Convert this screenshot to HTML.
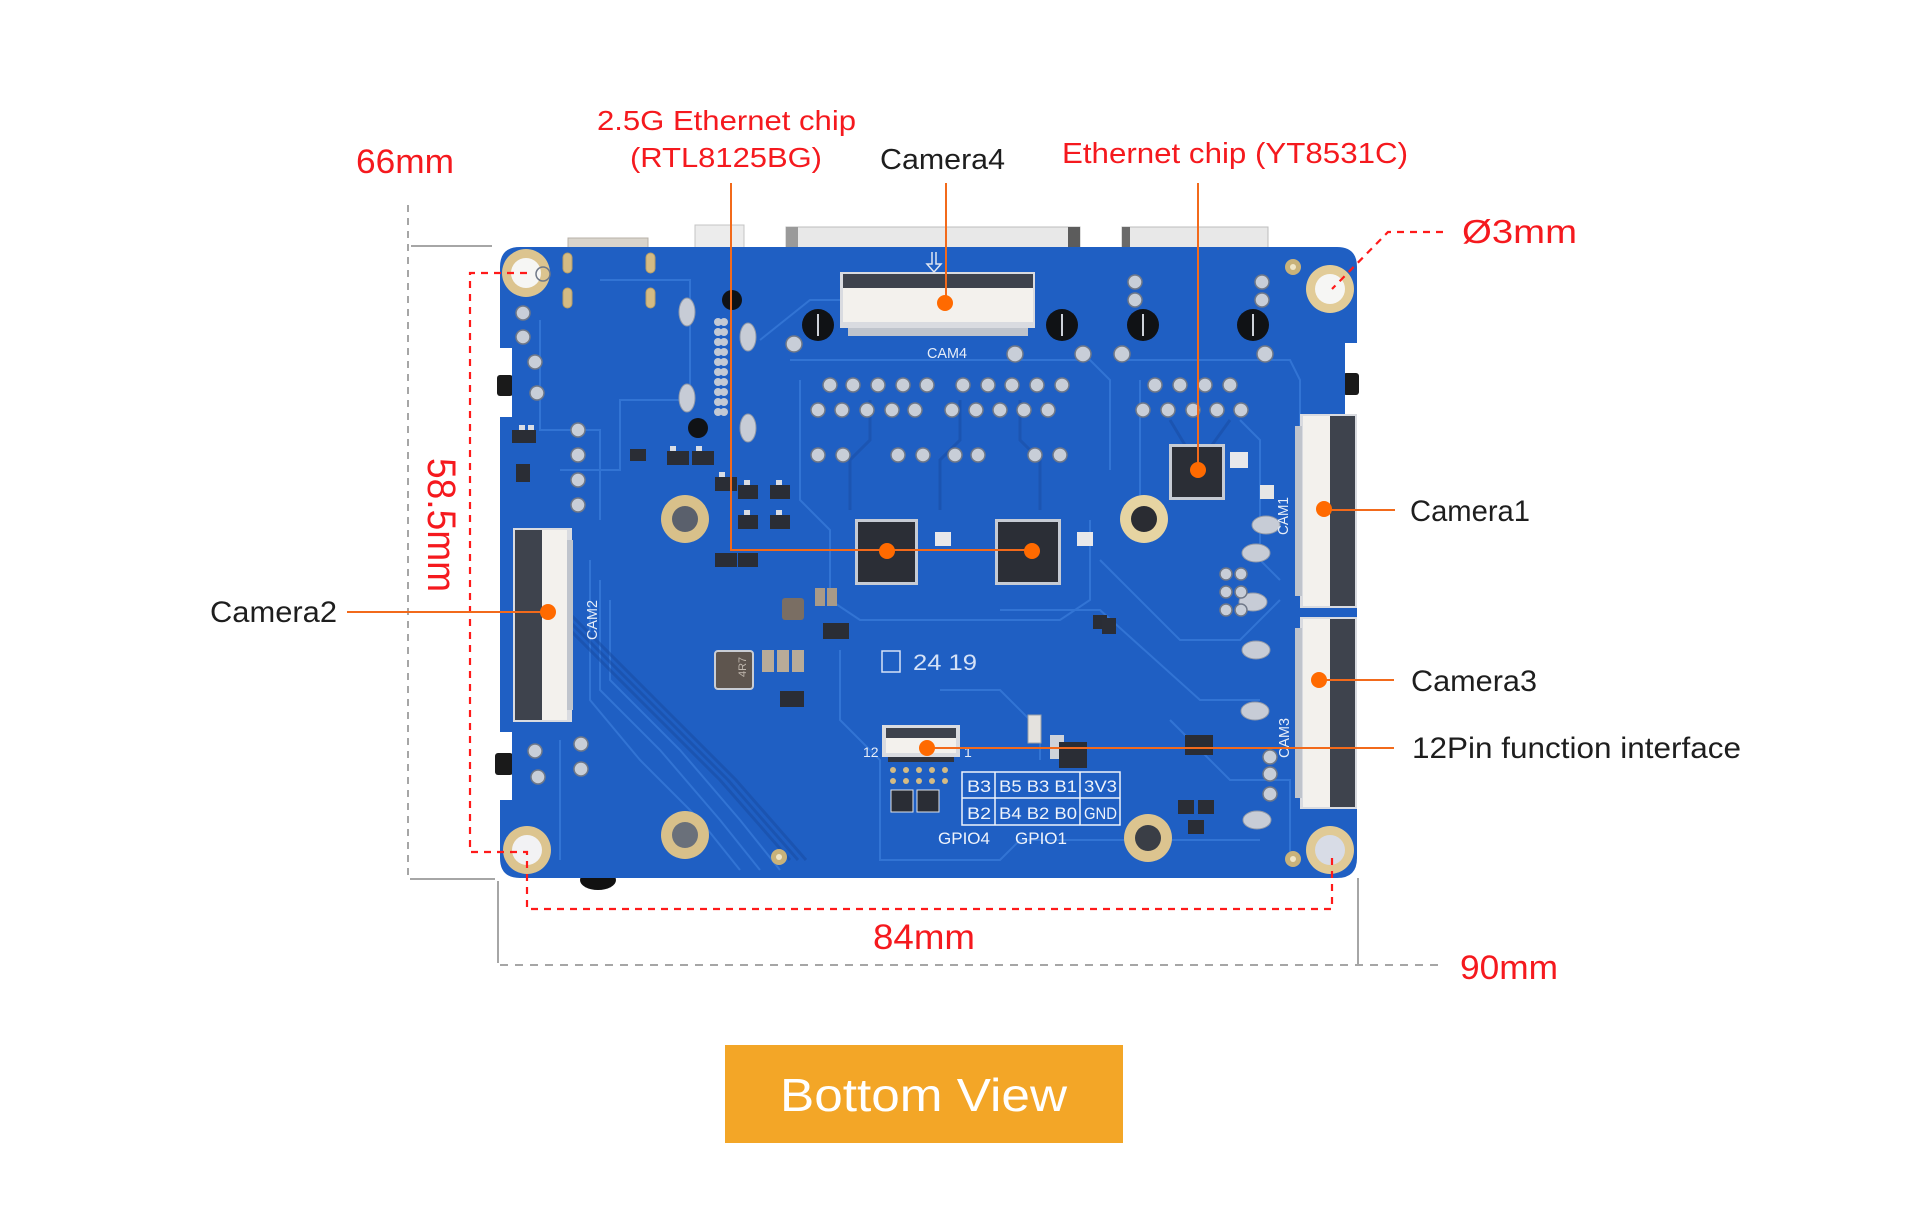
<!DOCTYPE html>
<html>
<head>
<meta charset="utf-8">
<style>
html,body{margin:0;padding:0;background:#fff;}
svg{display:block;}
text{font-family:"Liberation Sans",Arial,sans-serif;}
</style>
</head>
<body>
<svg width="1906" height="1205" viewBox="0 0 1906 1205" xmlns="http://www.w3.org/2000/svg">
<rect width="1906" height="1205" fill="#ffffff"/>

<!-- connectors protruding above board -->
<rect x="568" y="238" width="80" height="12" fill="#d9d4cc" stroke="#b8b2a8"/>
<rect x="695" y="225" width="49" height="25" fill="#ececec" stroke="#c4c4c4"/>
<rect x="786" y="227" width="294" height="23" fill="#e8e8e8" stroke="#bdbdbd"/>
<rect x="786" y="227" width="12" height="23" fill="#9a9a9a"/>
<rect x="1068" y="227" width="12" height="23" fill="#5c5c5c"/>
<rect x="1122" y="227" width="146" height="23" fill="#e8e8e8" stroke="#bdbdbd"/>
<rect x="1122" y="227" width="8" height="23" fill="#6a6a6a"/>

<!-- black parts under board -->
<ellipse cx="598" cy="880" rx="18" ry="10" fill="#111"/>
<rect x="497" y="375" width="16" height="21" rx="3" fill="#1a1a1a"/>
<rect x="495" y="753" width="18" height="22" rx="3" fill="#1a1a1a"/>
<rect x="1343" y="373" width="16" height="22" rx="3" fill="#1a1a1a"/>

<!-- board -->
<path d="M520 247 L1337 247 Q1357 247 1357 267 L1357 343 L1345 343 L1345 415 L1357 415 L1357 858 Q1357 878 1337 878 L520 878 Q500 878 500 858 L500 800 L512 800 L512 732 L500 732 L500 417 L512 417 L512 348 L500 348 L500 267 Q500 247 520 247 Z" fill="#1f5fc3"/>

<!-- trace texture -->
<g fill="none" stroke="#3b7ddc" stroke-width="2" opacity="0.7">
<path d="M600 280 L690 280 L690 400 L620 400 L620 470 L560 470"/>
<path d="M540 320 L540 430 L600 430 L600 520"/>
<path d="M760 340 L810 300 L840 300"/>
<path d="M790 360 L1090 360 L1110 380 L1110 470"/>
<path d="M1120 360 L1290 360 L1300 380 L1300 560"/>
<path d="M1140 380 L1140 500 L1160 520"/>
<path d="M800 380 L800 500 L830 530 L830 600 L860 620 L1060 620 L1090 600 L1090 520"/>
<path d="M590 560 L590 700 L640 760 L700 820 L740 870"/>
<path d="M600 580 L600 690 L660 750 L720 820 L760 870"/>
<path d="M610 600 L610 680 L680 750 L740 820 L780 870"/>
<path d="M840 650 L840 720 L880 760 L880 860 L1000 860 L1020 840 L1260 840"/>
<path d="M1000 610 L1100 610 L1200 700 L1260 700"/>
<path d="M1100 560 L1180 640 L1240 640 L1280 600"/>
<path d="M1170 720 L1230 780 L1290 780 L1290 860"/>
<path d="M940 690 L1000 690 L1040 730 L1040 760"/>
<path d="M560 740 L560 860"/>
<path d="M1240 420 L1260 440 L1260 560 L1280 580"/>
</g>
<g fill="none" stroke="#1a4ea6" stroke-width="3" opacity="0.6">
<path d="M540 600 L640 700 L720 780 L790 860"/>
<path d="M548 600 L648 700 L728 780 L798 860"/>
<path d="M556 600 L656 700 L736 780 L806 860"/>
<path d="M870 400 L870 440 L850 460 L850 510"/>
<path d="M960 400 L960 440 L940 460 L940 510"/>
<path d="M1020 400 L1020 440 L1040 460 L1040 510"/>
<path d="M1170 420 L1185 445"/>
<path d="M1230 420 L1212 445"/>
</g>

<!-- mounting holes corner -->
<g>
<circle cx="526" cy="273" r="24" fill="#dcc48f"/><circle cx="526" cy="273" r="15" fill="#f6f6f4"/>
<circle cx="1330" cy="289" r="24" fill="#e2cc98"/><circle cx="1330" cy="289" r="15" fill="#f6f6f4"/>
<circle cx="527" cy="850" r="24" fill="#dcc48f"/><circle cx="527" cy="850" r="15" fill="#f2f2f4"/>
<circle cx="1330" cy="850" r="24" fill="#e0ca96"/><circle cx="1330" cy="850" r="15" fill="#d8dce6"/>
</g>
<!-- mid holes -->
<g>
<circle cx="685" cy="519" r="24" fill="#d8c08a"/><circle cx="685" cy="519" r="13" fill="#5a606c"/>
<circle cx="1144" cy="519" r="24" fill="#e6d4a2"/><circle cx="1144" cy="519" r="13" fill="#2a2c32"/>
<circle cx="685" cy="835" r="24" fill="#d8c08a"/><circle cx="685" cy="835" r="13" fill="#6a707a"/>
<circle cx="1148" cy="838" r="24" fill="#dcc48f"/><circle cx="1148" cy="838" r="13" fill="#3a3e46"/>
</g>
<!-- small gold vias -->
<circle cx="1293" cy="267" r="8" fill="#c9b27a"/><circle cx="1293" cy="267" r="3" fill="#f0e6c8"/>
<circle cx="779" cy="857" r="8" fill="#c9b27a"/><circle cx="779" cy="857" r="3" fill="#f0e6c8"/>
<circle cx="1293" cy="859" r="8" fill="#c9b27a"/><circle cx="1293" cy="859" r="3" fill="#f0e6c8"/>

<!-- gold slots -->
<g fill="#d4bb84" stroke="#b89e66">
<rect x="563" y="253" width="9" height="20" rx="4.5"/>
<rect x="646" y="253" width="9" height="20" rx="4.5"/>
<rect x="563" y="288" width="9" height="20" rx="4.5"/>
<rect x="646" y="288" width="9" height="20" rx="4.5"/>
</g>
<!-- silver ovals -->
<g fill="#c7ccd6" stroke="#8f98a8">
<ellipse cx="687" cy="312" rx="8" ry="14"/>
<ellipse cx="748" cy="337" rx="8" ry="14"/>
<ellipse cx="687" cy="398" rx="8" ry="14"/>
<ellipse cx="748" cy="428" rx="8" ry="14"/>
<ellipse cx="1266" cy="525" rx="14" ry="9"/>
<ellipse cx="1256" cy="553" rx="14" ry="9"/>
<ellipse cx="1253" cy="602" rx="14" ry="9"/>
<ellipse cx="1256" cy="650" rx="14" ry="9"/>
<ellipse cx="1257" cy="820" rx="14" ry="9"/>
<ellipse cx="1255" cy="711" rx="14" ry="9"/>
</g>
<!-- grid pads column -->
<g fill="#c3c9d4">
<circle cx="718" cy="322" r="4"/><circle cx="724" cy="322" r="4"/>
<circle cx="718" cy="332" r="4"/><circle cx="724" cy="332" r="4"/>
<circle cx="718" cy="342" r="4"/><circle cx="724" cy="342" r="4"/>
<circle cx="718" cy="352" r="4"/><circle cx="724" cy="352" r="4"/>
<circle cx="718" cy="362" r="4"/><circle cx="724" cy="362" r="4"/>
<circle cx="718" cy="372" r="4"/><circle cx="724" cy="372" r="4"/>
<circle cx="718" cy="382" r="4"/><circle cx="724" cy="382" r="4"/>
<circle cx="718" cy="392" r="4"/><circle cx="724" cy="392" r="4"/>
<circle cx="718" cy="402" r="4"/><circle cx="724" cy="402" r="4"/>
<circle cx="718" cy="412" r="4"/><circle cx="724" cy="412" r="4"/>
</g>

<!-- silver vias rows -->
<g fill="#c8ced8" stroke="#6f7888" stroke-width="1.5">
<circle cx="830" cy="385" r="7"/><circle cx="853" cy="385" r="7"/><circle cx="878" cy="385" r="7"/><circle cx="903" cy="385" r="7"/>
<circle cx="927" cy="385" r="7"/><circle cx="963" cy="385" r="7"/><circle cx="988" cy="385" r="7"/><circle cx="1012" cy="385" r="7"/><circle cx="1037" cy="385" r="7"/><circle cx="1062" cy="385" r="7"/>
<circle cx="1155" cy="385" r="7"/><circle cx="1180" cy="385" r="7"/><circle cx="1205" cy="385" r="7"/><circle cx="1230" cy="385" r="7"/>
<circle cx="818" cy="410" r="7"/><circle cx="842" cy="410" r="7"/><circle cx="867" cy="410" r="7"/><circle cx="892" cy="410" r="7"/>
<circle cx="915" cy="410" r="7"/><circle cx="952" cy="410" r="7"/><circle cx="976" cy="410" r="7"/><circle cx="1000" cy="410" r="7"/><circle cx="1024" cy="410" r="7"/><circle cx="1048" cy="410" r="7"/>
<circle cx="1143" cy="410" r="7"/><circle cx="1168" cy="410" r="7"/><circle cx="1193" cy="410" r="7"/><circle cx="1217" cy="410" r="7"/><circle cx="1241" cy="410" r="7"/>
<circle cx="818" cy="455" r="7"/><circle cx="843" cy="455" r="7"/><circle cx="898" cy="455" r="7"/>
<circle cx="923" cy="455" r="7"/><circle cx="955" cy="455" r="7"/><circle cx="978" cy="455" r="7"/><circle cx="1035" cy="455" r="7"/><circle cx="1060" cy="455" r="7"/>
<circle cx="1135" cy="282" r="7"/><circle cx="1135" cy="300" r="7"/>
<circle cx="1262" cy="282" r="7"/><circle cx="1262" cy="300" r="7"/>
<circle cx="1083" cy="354" r="8"/><circle cx="1122" cy="354" r="8"/><circle cx="1265" cy="354" r="8"/><circle cx="1015" cy="354" r="8"/><circle cx="794" cy="344" r="8"/>
<circle cx="543" cy="274" r="7" fill="none"/>
<circle cx="523" cy="313" r="7"/><circle cx="523" cy="337" r="7"/>
<circle cx="535" cy="362" r="7"/><circle cx="537" cy="393" r="7"/>
<circle cx="578" cy="430" r="7"/><circle cx="578" cy="455" r="7"/><circle cx="578" cy="480" r="7"/><circle cx="578" cy="505" r="7"/>
<circle cx="581" cy="744" r="7"/><circle cx="581" cy="769" r="7"/><circle cx="535" cy="751" r="7"/><circle cx="538" cy="777" r="7"/>
<circle cx="1270" cy="757" r="7"/><circle cx="1270" cy="774" r="7"/><circle cx="1270" cy="794" r="7"/>
<circle cx="1226" cy="574" r="6"/><circle cx="1241" cy="574" r="6"/><circle cx="1226" cy="592" r="6"/><circle cx="1241" cy="592" r="6"/><circle cx="1226" cy="610" r="6"/><circle cx="1241" cy="610" r="6"/>
</g>

<!-- black screws -->
<g fill="#101215">
<circle cx="818" cy="325" r="16"/><circle cx="1062" cy="325" r="16"/><circle cx="1143" cy="325" r="16"/><circle cx="1253" cy="325" r="16"/>
<circle cx="732" cy="300" r="10"/><circle cx="698" cy="428" r="10"/>
</g>
<g stroke="#cfd3da" stroke-width="2">
<line x1="818" y1="314" x2="818" y2="336"/><line x1="1062" y1="314" x2="1062" y2="336"/><line x1="1143" y1="314" x2="1143" y2="336"/><line x1="1253" y1="314" x2="1253" y2="336"/>
</g>

<!-- SOT components -->
<g>
<g fill="#2a2d35">
<rect x="667" y="451" width="22" height="14"/><rect x="692" y="451" width="22" height="14"/>
<rect x="630" y="449" width="16" height="12"/>
<rect x="715" y="477" width="22" height="14"/><rect x="738" y="485" width="20" height="14"/><rect x="770" y="485" width="20" height="14"/>
<rect x="738" y="515" width="20" height="14"/><rect x="770" y="515" width="20" height="14"/>
<rect x="715" y="553" width="22" height="14"/><rect x="738" y="553" width="20" height="14"/>
<rect x="512" y="430" width="24" height="13"/><rect x="516" y="464" width="14" height="18"/>
<rect x="823" y="623" width="26" height="16"/><rect x="780" y="691" width="24" height="16"/>
<rect x="1093" y="615" width="14" height="14"/>
<rect x="1185" y="735" width="28" height="20"/>
<rect x="1178" y="800" width="16" height="14"/><rect x="1198" y="800" width="16" height="14"/>
<rect x="1188" y="820" width="16" height="14"/>
<rect x="1050" y="735" width="14" height="24" fill="#cfd3da"/>
</g>
<g fill="#d9dde5">
<rect x="670" y="446" width="6" height="5"/><rect x="696" y="446" width="6" height="5"/>
<rect x="719" y="472" width="6" height="5"/><rect x="744" y="480" width="6" height="5"/><rect x="776" y="480" width="6" height="5"/>
<rect x="744" y="510" width="6" height="5"/><rect x="776" y="510" width="6" height="5"/>
<rect x="519" y="425" width="6" height="5"/><rect x="528" y="425" width="6" height="5"/>
</g>
</g>

<!-- brown components -->
<rect x="782" y="598" width="22" height="22" rx="3" fill="#7a6e63"/>
<rect x="815" y="588" width="10" height="18" fill="#a89a88"/><rect x="827" y="588" width="10" height="18" fill="#a89a88"/>
<rect x="715" y="651" width="38" height="38" rx="3" fill="#5e554e" stroke="#c9cdd4" stroke-width="2"/>
<text x="727" y="682" font-size="11" fill="#c0b8ae" transform="rotate(-90 734 670)">4R7</text>
<rect x="762" y="650" width="12" height="22" fill="#b8ab98"/><rect x="777" y="650" width="12" height="22" fill="#b8ab98"/><rect x="792" y="650" width="12" height="22" fill="#b8ab98"/>
<rect x="1260" y="485" width="14" height="14" fill="#e6e6e6"/>
<rect x="1230" y="452" width="18" height="16" fill="#e8e8ea"/>
<rect x="935" y="532" width="16" height="14" fill="#e8e8ea"/>
<rect x="1077" y="532" width="16" height="14" fill="#e8e8ea"/>
<rect x="1028" y="715" width="13" height="28" fill="#e4e2de" stroke="#9aa0aa"/>
<rect x="1059" y="742" width="28" height="26" fill="#2a2d35"/>

<!-- Ethernet chips -->
<g>
<rect x="855" y="519" width="63" height="66" fill="#c6cbd4"/>
<rect x="858" y="522" width="57" height="60" fill="#2b2e36"/>
<rect x="995" y="519" width="66" height="66" fill="#c6cbd4"/>
<rect x="998" y="522" width="60" height="60" fill="#2b2e36"/>
<rect x="1169" y="444" width="56" height="56" fill="#c6cbd4"/>
<rect x="1172" y="447" width="50" height="50" fill="#2b2e36"/>
<rect x="1102" y="618" width="14" height="16" fill="#2b2e36"/>
</g>

<!-- CAM4 connector -->
<g>
<rect x="840" y="272" width="195" height="56" fill="#d9dbe0"/>
<rect x="843" y="274" width="190" height="14" fill="#3e434d"/>
<rect x="843" y="288" width="190" height="34" fill="#f3f1ed"/>
<rect x="848" y="328" width="180" height="8" fill="#bfc4cc"/>
<path d="M932 252 L932 264 L927 264 L934 272 L941 264 L936 264 L936 252" fill="none" stroke="#dfe6f2" stroke-width="1.5"/>
<text x="927" y="358" font-size="15" fill="#e6edf8" textLength="40" lengthAdjust="spacingAndGlyphs" font-family="Liberation Mono, monospace">CAM4</text>
</g>
<!-- CAM2 -->
<g>
<rect x="513" y="528" width="59" height="194" fill="#d9dbe0"/>
<rect x="515" y="530" width="27" height="190" fill="#3e434d"/>
<rect x="542" y="530" width="25" height="190" fill="#f3f1ed"/>
<rect x="567" y="540" width="6" height="170" fill="#bfc4cc"/>
<text transform="translate(597,640) rotate(-90)" font-size="15" fill="#e6edf8" textLength="40" lengthAdjust="spacingAndGlyphs" font-family="Liberation Mono, monospace">CAM2</text>
</g>
<!-- CAM1 -->
<g>
<rect x="1300" y="414" width="57" height="194" fill="#d9dbe0"/>
<rect x="1303" y="416" width="27" height="190" fill="#f3f1ed"/>
<rect x="1330" y="416" width="25" height="190" fill="#3e434d"/>
<rect x="1295" y="426" width="7" height="170" fill="#bfc4cc"/>
<text transform="translate(1288,535) rotate(-90)" font-size="15" fill="#e6edf8" textLength="38" lengthAdjust="spacingAndGlyphs" font-family="Liberation Mono, monospace">CAM1</text>
</g>
<!-- CAM3 -->
<g>
<rect x="1300" y="617" width="57" height="192" fill="#d9dbe0"/>
<rect x="1303" y="619" width="27" height="188" fill="#f3f1ed"/>
<rect x="1330" y="619" width="25" height="188" fill="#3e434d"/>
<rect x="1295" y="628" width="7" height="170" fill="#bfc4cc"/>
<text transform="translate(1289,758) rotate(-90)" font-size="15" fill="#e6edf8" textLength="40" lengthAdjust="spacingAndGlyphs" font-family="Liberation Mono, monospace">CAM3</text>
</g>
<!-- 12pin connector -->
<g>
<rect x="882" y="725" width="78" height="32" fill="#d9dbe0"/>
<rect x="886" y="728" width="70" height="10" fill="#3e434d"/>
<rect x="886" y="738" width="70" height="15" fill="#f3f1ed"/>
<rect x="888" y="757" width="66" height="5" fill="#2f3440"/>
<text x="863" y="757" font-size="14" fill="#e6edf8" font-family="Liberation Mono, monospace">12</text>
<text x="964" y="757" font-size="14" fill="#e6edf8" font-family="Liberation Mono, monospace">1</text>
<g fill="#d4bb84">
<circle cx="893" cy="770" r="3"/><circle cx="906" cy="770" r="3"/><circle cx="919" cy="770" r="3"/><circle cx="932" cy="770" r="3"/><circle cx="945" cy="770" r="3"/>
<circle cx="893" cy="781" r="3"/><circle cx="906" cy="781" r="3"/><circle cx="919" cy="781" r="3"/><circle cx="932" cy="781" r="3"/><circle cx="945" cy="781" r="3"/>
</g>
<rect x="891" y="790" width="22" height="22" fill="#2a2d35" stroke="#dfe4ec"/>
<rect x="917" y="790" width="22" height="22" fill="#2a2d35" stroke="#dfe4ec"/>
</g>

<!-- silkscreen -->
<text x="913" y="670" font-size="22" fill="#d5e2f7" font-family="Liberation Mono, monospace" textLength="64" lengthAdjust="spacingAndGlyphs">24 19</text>
<rect x="882" y="651" width="18" height="21" fill="none" stroke="#d5e2f7" stroke-width="1.5"/>

<!-- GPIO table -->
<g fill="none" stroke="#eef3fb" stroke-width="1.5">
<rect x="962" y="772" width="158" height="53"/>
<line x1="962" y1="798" x2="1120" y2="798"/>
<line x1="995" y1="772" x2="995" y2="825"/>
<line x1="1080" y1="772" x2="1080" y2="825"/>
</g>
<g fill="#eef3fb" font-family="Liberation Mono, monospace" font-size="17">
<text x="967" y="792" textLength="24" lengthAdjust="spacingAndGlyphs">B3</text>
<text x="999" y="792" textLength="78" lengthAdjust="spacingAndGlyphs">B5 B3 B1</text>
<text x="1084" y="792" textLength="33" lengthAdjust="spacingAndGlyphs">3V3</text>
<text x="967" y="819" textLength="24" lengthAdjust="spacingAndGlyphs">B2</text>
<text x="999" y="819" textLength="78" lengthAdjust="spacingAndGlyphs">B4 B2 B0</text>
<text x="1084" y="819" textLength="33" lengthAdjust="spacingAndGlyphs">GND</text>
<text x="938" y="844" textLength="52" lengthAdjust="spacingAndGlyphs">GPIO4</text>
<text x="1015" y="844" textLength="52" lengthAdjust="spacingAndGlyphs">GPIO1</text>
</g>

<!-- gray dimension lines -->
<g stroke="#a6a6a6" stroke-width="2" fill="none">
<line x1="408" y1="205" x2="408" y2="878" stroke-dasharray="7,6"/>
<line x1="411" y1="246" x2="492" y2="246"/>
<line x1="410" y1="879" x2="495" y2="879"/>
<line x1="498" y1="881" x2="498" y2="963"/>
<line x1="500" y1="965" x2="1442" y2="965" stroke-dasharray="8,7"/>
<line x1="1358" y1="878" x2="1358" y2="965"/>
</g>

<!-- red dashed lines -->
<g stroke="#ff1a1a" stroke-width="2.2" fill="none" stroke-dasharray="7,6">
<path d="M527 273 L470 273 L470 852 L527 852 L527 909 L1332 909 L1332 857"/>
<path d="M1443 232 L1388 232 L1332 289"/>
</g>

<!-- orange leader lines -->
<g stroke="#f26a1b" stroke-width="2" fill="none">
<path d="M731 183 L731 550 L1032 550"/>
<line x1="946" y1="183" x2="946" y2="303"/>
<line x1="1198" y1="183" x2="1198" y2="470"/>
<line x1="1324" y1="510" x2="1395" y2="510"/>
<line x1="347" y1="612" x2="548" y2="612"/>
<line x1="1319" y1="680" x2="1394" y2="680"/>
<line x1="927" y1="748" x2="1394" y2="748"/>
</g>
<g fill="#ff6a00">
<circle cx="887" cy="551" r="8"/>
<circle cx="1032" cy="551" r="8"/>
<circle cx="945" cy="303" r="8"/>
<circle cx="1198" cy="470" r="8"/>
<circle cx="1324" cy="509" r="8"/>
<circle cx="548" cy="612" r="8"/>
<circle cx="1319" cy="680" r="8"/>
<circle cx="927" cy="748" r="8"/>
</g>

<!-- labels -->
<g fill="#f5191e">
<text x="356" y="173" font-size="34" textLength="98" lengthAdjust="spacingAndGlyphs">66mm</text>
<text x="597" y="130" font-size="28" textLength="259" lengthAdjust="spacingAndGlyphs">2.5G Ethernet chip</text>
<text x="630" y="167" font-size="28" textLength="192" lengthAdjust="spacingAndGlyphs">(RTL8125BG)</text>
<text x="1062" y="163" font-size="29" textLength="346" lengthAdjust="spacingAndGlyphs">Ethernet chip (YT8531C)</text>
<text x="1462" y="243" font-size="33" textLength="115" lengthAdjust="spacingAndGlyphs">Ø3mm</text>
<text transform="translate(428,458) rotate(90)" font-size="40" textLength="134" lengthAdjust="spacingAndGlyphs">58.5mm</text>
<text x="873" y="949" font-size="35" textLength="102" lengthAdjust="spacingAndGlyphs">84mm</text>
<text x="1460" y="979" font-size="34" textLength="98" lengthAdjust="spacingAndGlyphs">90mm</text>
</g>
<g fill="#1e1e1e">
<text x="880" y="169" font-size="29" textLength="125" lengthAdjust="spacingAndGlyphs">Camera4</text>
<text x="1410" y="521" font-size="30" textLength="120" lengthAdjust="spacingAndGlyphs">Camera1</text>
<text x="210" y="622" font-size="30" textLength="127" lengthAdjust="spacingAndGlyphs">Camera2</text>
<text x="1411" y="691" font-size="30" textLength="126" lengthAdjust="spacingAndGlyphs">Camera3</text>
<text x="1412" y="758" font-size="30" textLength="329" lengthAdjust="spacingAndGlyphs">12Pin function interface</text>
</g>

<!-- button -->
<rect x="725" y="1045" width="398" height="98" fill="#f3a627"/>
<text x="780" y="1111" font-size="46" fill="#ffffff" textLength="287" lengthAdjust="spacingAndGlyphs">Bottom View</text>
</svg>
</body>
</html>
